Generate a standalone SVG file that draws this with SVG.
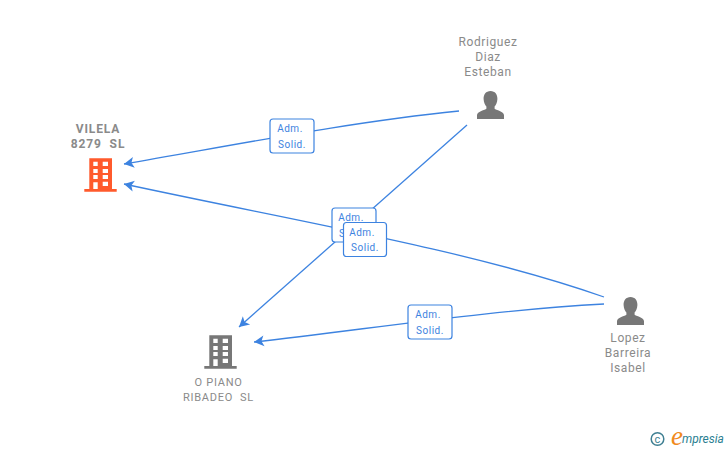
<svg xmlns="http://www.w3.org/2000/svg" width="728" height="450" viewBox="0 0 728 450">
<style>
text{font-family:Roboto,"Liberation Sans",sans-serif;white-space:pre}
.n{font-size:12px;fill:#8a8a8a;text-anchor:middle;letter-spacing:.6px}
.b{font-weight:700;letter-spacing:.9px}
.s{font-size:11px;letter-spacing:.75px}
.e{fill:none;stroke:#3d83e0;stroke-width:1.3;marker-end:url(#a)}
.lb{fill:#fff;stroke:#3d83e0;stroke-width:1.2}
.lt{font-size:10px;fill:#3d83e0;text-anchor:middle;letter-spacing:.5px}
.org{fill:#ff5a2c}
.gry{fill:#777}
</style>
<defs>
<marker id="a" viewBox="0 0 11 12" refX="10.500" refY="6" markerWidth="11" markerHeight="12" markerUnits="userSpaceOnUse" orient="auto"><path d="M0.500 0.500L10.500 6L0.500 11.500L3 6Z" fill="#3d83e0"/></marker>
<path id="bld" fill-rule="evenodd" d="M89.3 158.3H112V189H116.7V191.7H84.3V189H89.3ZM93.3 161.7V166H97.7V161.7ZM102.7 161.7V166H108V161.7ZM93.3 169V172.9H97.7V169ZM102.7 169V172.9H108V169ZM93.3 175V179H97.7V175ZM102.7 175V179H108V175ZM93.3 182.3V189H97.7V182.3ZM102.7 181.7V186H108V181.7Z"/>
<path id="per" d="M490.5 91C495 91 497.6 94.6 497.4 99C497.2 102.4 496 105 494.6 106.6V108.8C497.5 110.6 503.5 111.6 504 115V119H477V115C477.5 111.6 483.5 110.6 486.4 108.8V106.6C485 105 483.8 102.4 483.6 99C483.4 94.6 486 91 490.5 91Z"/>
</defs>
<g id="connectors">
<path class="e" d="M459 111C350 122 240 144 124 164"/>
<path class="e" d="M604 297C470 250 300 222 124 184"/>
<path class="e" d="M467 125L239 327"/>
<path class="e" d="M604 304C490 310 370 329 254 342"/>
</g>
<g id="edge-label-1"><rect class="lb" x="270" y="119" width="44" height="34" rx="3"/><text class="lt" x="290" y="132">Adm.</text><text class="lt" x="292" y="148">Solid.</text></g>
<g id="edge-label-2"><rect class="lb" x="332" y="208" width="44" height="34" rx="3"/><text class="lt" x="351" y="221">Adm.</text><text class="lt" x="353" y="237">Solid.</text></g>
<g id="edge-label-3"><rect class="lb" x="343.500" y="222.500" width="43" height="34" rx="3"/><text class="lt" x="362" y="236">Adm.</text><text class="lt" x="365" y="251">Solid.</text></g>
<g id="edge-label-4"><rect class="lb" x="408" y="305" width="44" height="34" rx="3"/><text class="lt" x="428" y="318">Adm.</text><text class="lt" x="430" y="334">Solid.</text></g>
<g id="node-vilela"><text class="n b" x="98" y="133">VILELA</text><text class="n b" x="98" y="148">8279  SL</text><use href="#bld" class="org"/></g>
<g id="node-piano"><text class="n s" x="218.500" y="386">O PIANO</text><text class="n s" x="218.500" y="401">RIBADEO  SL</text><use href="#bld" class="gry" x="120" y="177"/></g>
<g id="node-rodriguez"><text class="n" x="488" y="46">Rodriguez</text><text class="n" x="488" y="61">Diaz</text><text class="n" x="488" y="76">Esteban</text><use href="#per" class="gry"/></g>
<g id="node-lopez"><text class="n" x="628" y="342">Lopez</text><text class="n" x="628" y="357">Barreira</text><text class="n" x="628" y="372">Isabel</text><use href="#per" class="gry" x="140" y="206"/></g>
<g id="logo"><circle cx="657.500" cy="439" r="6.300" fill="none" stroke="#3f7f92" stroke-width="1.500"/><text x="657.500" y="442.500" font-size="11" fill="#3f7f92" text-anchor="middle">c</text><text x="671" y="445" font-size="27" fill="#f08a1d" style="font-family:'Liberation Serif',serif;font-style:italic">e</text><text x="682" y="443" font-size="12" fill="#2b7f92" style="font-style:italic">mpresia</text></g>
</svg>
